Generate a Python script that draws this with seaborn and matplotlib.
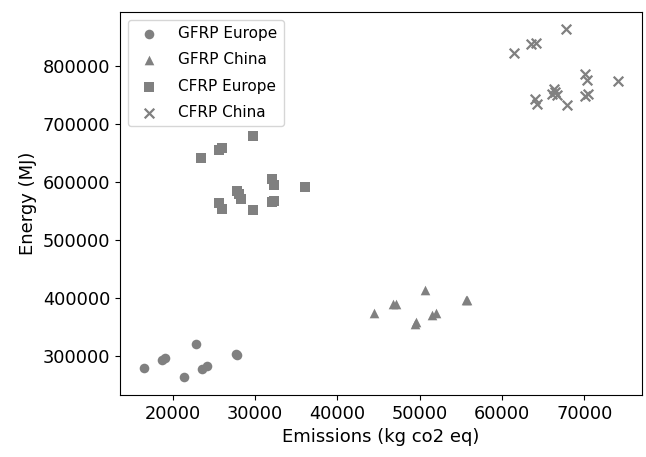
import matplotlib
matplotlib.use("Agg")
import matplotlib.pyplot as plt
import seaborn as sns
import pandas as pd

# GFRP Europe (circles)
gfrp_eu_x = [16500, 18750, 19100, 21400, 22850, 23600, 24200, 27650, 27800]
gfrp_eu_y = [278700, 293000, 297000, 262600, 320800, 277000, 281600, 303500, 301500]

# GFRP China (triangles)
gfrp_cn_x = [44500, 46750, 47100, 50700, 49400, 49600, 51500, 52000, 55650, 55800]
gfrp_cn_y = [373800, 389900, 389900, 412900, 355500, 358500, 370900, 373800, 396800, 395500]

# CFRP Europe (squares)
cfrp_eu_x = [23440, 25660, 26050, 29780, 32050, 32330, 36050, 27850, 28080, 28290,
             25660, 25990, 29780, 32050, 32330]
cfrp_eu_y = [641500, 656000, 658000, 680200, 605000, 594600, 592200, 585000, 579000, 570300,
             563400, 553000, 551200, 566000, 567400]

# CFRP China (crosses)
cfrp_cn_x = [61500, 63560, 64120, 67760, 70110, 70300, 74150, 66270, 66470, 66060,
             66670, 64050, 64240, 67880, 70110, 70500]
cfrp_cn_y = [822000, 837700, 839400, 863700, 787300, 775700, 774500, 761000, 755400, 752600,
             749700, 743900, 734000, 732300, 747900, 751400]

groups = [
    ("GFRP Europe", gfrp_eu_x, gfrp_eu_y, "o"),
    ("GFRP China", gfrp_cn_x, gfrp_cn_y, "^"),
    ("CFRP Europe", cfrp_eu_x, cfrp_eu_y, "s"),
    ("CFRP China", cfrp_cn_x, cfrp_cn_y, "x"),
]

fig, ax = plt.subplots(figsize=(6.46, 4.57), dpi=100)
fig.subplots_adjust(left=0.186, right=0.994, top=0.974, bottom=0.136)

for label, xs, ys, m in groups:
    df = pd.DataFrame({"x": xs, "y": ys})
    if m == "x":
        sns.scatterplot(data=df, x="x", y="y", marker=m, color="gray", s=48,
                        linewidth=1.6, label=label, ax=ax)
    else:
        sns.scatterplot(data=df, x="x", y="y", marker=m, color="gray", s=48,
                        linewidth=0, label=label, ax=ax)

ax.set_xlabel("Emissions (kg co2 eq)", fontsize=13)
ax.set_ylabel("Energy (MJ)", fontsize=13)
ax.tick_params(labelsize=12.8)
ax.set_xticks([20000, 30000, 40000, 50000, 60000, 70000])
ax.set_yticks([300000, 400000, 500000, 600000, 700000, 800000])
ax.legend(loc="upper left", fontsize=11, labelspacing=0.75, handletextpad=0.9)

plt.savefig("out.png", dpi=100)
plt.close()
